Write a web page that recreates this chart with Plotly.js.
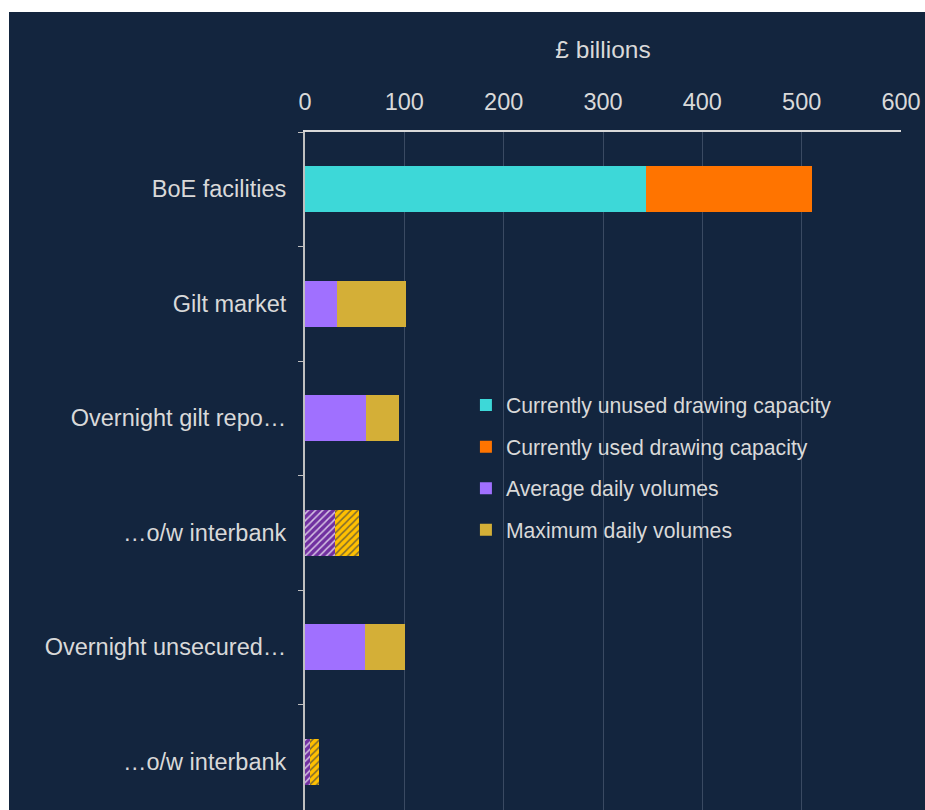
<!DOCTYPE html>
<html>
<head>
<meta charset="utf-8">
<script src="https://cdn.plot.ly/plotly-3.0.1.min.js"></script>
<style>
html, body { margin: 0; padding: 0; background: #ffffff; overflow: hidden; }
#chart { position: absolute; left: 9px; top: 12px; width: 916px; height: 831px; }
</style>
</head>
<body>
<div id="chart"></div>
<script>
// Categories (top to bottom); zero-width space keeps the repeated label unique
var categories = ['BoE facilities', 'Gilt market', 'Overnight gilt repo\u2026', '\u2026o/w interbank', 'Overnight unsecured\u2026', '\u2026o/w interbank\u200B'];

// BoE facilities (£ billions)
var boeCategories = ['BoE facilities'];
var unusedCapacity = [343];
var usedCapacity = [167];

// Market volumes (£ billions); max shown as increment over average
var marketCategories = ['Gilt market', 'Overnight gilt repo\u2026', '\u2026o/w interbank', 'Overnight unsecured\u2026', '\u2026o/w interbank\u200B'];
var averageDaily = [32, 61, 30, 60, 5];
var maximumExtra = [70, 34, 24, 41, 9];
var hatched = [false, false, true, false, true];

var xTicks = [0, 100, 200, 300, 400, 500, 600];

var avgColors = hatched.map(function (h) { return h ? '#7030a0' : '#a070ff'; });
var maxColors = hatched.map(function (h) { return h ? '#ffc000' : '#d4af37'; });
var shapes = hatched.map(function (h) { return h ? '/' : ''; });

var textColor = '#d9d9d9';
var font = 'Liberation Sans, Arial, sans-serif';

var traces = [
  {
    type: 'bar', orientation: 'h', name: 'Currently unused drawing capacity',
    y: boeCategories, x: unusedCapacity, legendgroup: 'a',
    marker: { color: '#3dd8d8', line: { width: 0 } }
  },
  {
    type: 'bar', orientation: 'h', name: 'Currently used drawing capacity',
    y: boeCategories, x: usedCapacity, legendgroup: 'b',
    marker: { color: '#ff7400', line: { width: 0 } }
  },
  {
    type: 'bar', orientation: 'h', name: 'Average daily volumes',
    y: marketCategories, x: averageDaily, legendgroup: 'c',
    marker: {
      color: avgColors, line: { width: 0 },
      pattern: { shape: shapes, fillmode: 'overlay', fgcolor: '#ffffff', fgopacity: 0.7, size: 5, solidity: 0.3 }
    }
  },
  {
    type: 'bar', orientation: 'h', name: 'Maximum daily volumes',
    y: marketCategories, x: maximumExtra, legendgroup: 'd',
    marker: {
      color: maxColors, line: { width: 0 },
      pattern: { shape: shapes, fillmode: 'overlay', fgcolor: '#ffffff', fgopacity: 0.7, size: 5, solidity: 0.3 }
    }
  }
];

var layout = {
  width: 916, height: 831,
  paper_bgcolor: '#13253e', plot_bgcolor: '#13253e',
  margin: { l: 296, r: 24, t: 120, b: 24 },
  barmode: 'stack', bargap: 0.6,
  font: { family: font, color: textColor, size: 23.5 },
  showlegend: true,
  legend: {
    x: 0.27, y: 0.632, xanchor: 'left', yanchor: 'top',
    bgcolor: 'rgba(0,0,0,0)', font: { size: 21.2, color: textColor, family: font },
    tracegroupgap: 11, traceorder: 'grouped'
  },
  xaxis: {
    side: 'top', range: [0, 600], tickvals: xTicks,
    showgrid: true, gridcolor: '#3a4a62', gridwidth: 1,
    showline: true, linecolor: '#d9d9d9', linewidth: 2,
    ticks: '', ticklabelstandoff: 11, zeroline: false,
    tickfont: { size: 23.5, color: textColor },
    title: { text: '£ billions', font: { size: 24.5, color: textColor }, standoff: 23 }
  },
  yaxis: {
    type: 'category', categoryorder: 'array', categoryarray: categories,
    autorange: 'reversed',
    showline: true, linecolor: '#bfbfbf', linewidth: 2,
    ticks: 'outside', tickson: 'boundaries', ticklen: 5, tickcolor: '#bfbfbf', tickwidth: 1,
    ticklabelstandoff: 12, showgrid: false,
    tickfont: { size: 23.5, color: textColor }
  }
};

Plotly.newPlot('chart', traces, layout, { displayModeBar: false, staticPlot: true });
</script>
</body>
</html>
